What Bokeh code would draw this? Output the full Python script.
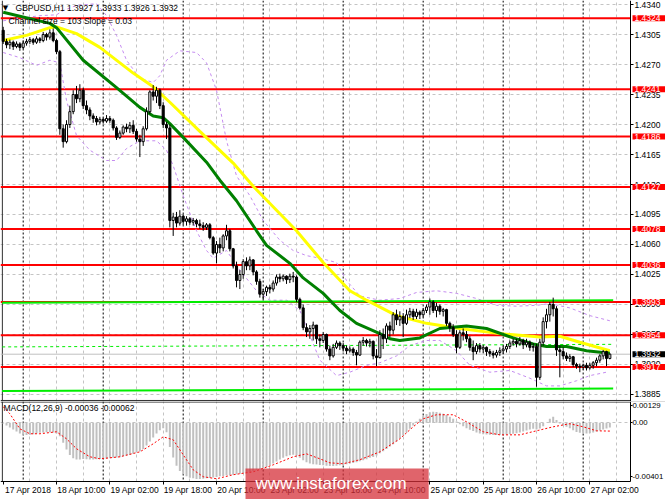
from bokeh.plotting import figure
from bokeh.layouts import column
from bokeh.models import (ColumnDataSource, FixedTicker, Span, Label, Range1d,
                          BoxAnnotation)
from bokeh.embed import file_html
from bokeh.resources import INLINE

# GBPUSD H1, bar 0 = 17 Apr 2018 18:00
first_open = 1.4310
closes = [
    1.4297, 1.4293, 1.4296, 1.4291, 1.4294, 1.4290, 1.4295, 1.4297, 1.4299, 1.4296,
    1.4300, 1.4298, 1.4305, 1.4302, 1.4307, 1.4298, 1.4285, 1.4195, 1.4180, 1.4200,
    1.4215, 1.4235, 1.4230, 1.4240, 1.4222, 1.4217, 1.4210, 1.4207, 1.4203, 1.4206,
    1.4204, 1.4207, 1.4205, 1.4196, 1.4185, 1.4190, 1.4197, 1.4195, 1.4199, 1.4192,
    1.4183, 1.4180, 1.4195, 1.4215, 1.4238, 1.4233, 1.4240, 1.4222, 1.4200, 1.4196,
    1.4088, 1.4092, 1.4085, 1.4093, 1.4087, 1.4090, 1.4086, 1.4088, 1.4084, 1.4082,
    1.4080, 1.4083, 1.4068, 1.4050, 1.4060, 1.4056, 1.4070, 1.4076, 1.4055, 1.4035,
    1.4018, 1.4025, 1.4040, 1.4035, 1.4042, 1.4028, 1.4017, 1.4002, 1.4005, 1.4010,
    1.4008, 1.4015, 1.4022, 1.4020, 1.4023, 1.4019, 1.4023, 1.4022, 1.3996, 1.3986,
    1.3963, 1.3958, 1.3962, 1.3966, 1.3950, 1.3948, 1.3955, 1.3938, 1.3930, 1.3940,
    1.3945, 1.3942, 1.3939, 1.3936, 1.3938, 1.3934, 1.3931, 1.3946, 1.3948, 1.3945,
    1.3947, 1.3930, 1.3928, 1.3955, 1.3950, 1.3965, 1.3960, 1.3978, 1.3972, 1.3976,
    1.3968, 1.3978, 1.3982, 1.3976, 1.3981, 1.3978, 1.3983, 1.3987, 1.3993, 1.3983,
    1.3988, 1.3982, 1.3984, 1.3968, 1.3963, 1.3955, 1.3940, 1.3957, 1.3955, 1.3950,
    1.3940, 1.3935, 1.3942, 1.3938, 1.3940, 1.3935, 1.3933, 1.3931, 1.3934, 1.3936,
    1.3938, 1.3941, 1.3945, 1.3947, 1.3944, 1.3948, 1.3943, 1.3946, 1.3940, 1.3941,
    1.3905, 1.3946, 1.3970, 1.3978, 1.3990, 1.3985, 1.3937, 1.3935, 1.3930, 1.3927,
    1.3929, 1.3920, 1.3918, 1.3917, 1.3919, 1.3916, 1.3919, 1.3922, 1.3925, 1.3930,
    1.3935, 1.3927, 1.3932,
]
highs = [
    1.4314, 1.4300, 1.4299, 1.4298, 1.4297, 1.4296, 1.4298, 1.4300, 1.4302, 1.4301,
    1.4303, 1.4302, 1.4308, 1.4307, 1.4311, 1.4312, 1.4300, 1.4287, 1.4200, 1.4205,
    1.4222, 1.4240, 1.4245, 1.4247, 1.4243, 1.4228, 1.4220, 1.4213, 1.4210, 1.4209,
    1.4208, 1.4211, 1.4210, 1.4207, 1.4198, 1.4193, 1.4199, 1.4201, 1.4203, 1.4205,
    1.4195, 1.4188, 1.4198, 1.4220, 1.4240, 1.4246, 1.4244, 1.4242, 1.4226, 1.4203,
    1.4200, 1.4097, 1.4098, 1.4100, 1.4095, 1.4093, 1.4092, 1.4091, 1.4090, 1.4089,
    1.4086, 1.4085, 1.4085, 1.4070, 1.4064, 1.4068, 1.4072, 1.4083, 1.4078, 1.4056,
    1.4040, 1.4030, 1.4043, 1.4045, 1.4046, 1.4043, 1.4030, 1.4020, 1.4008, 1.4012,
    1.4013, 1.4018, 1.4025, 1.4026, 1.4025, 1.4024, 1.4026, 1.4028, 1.4024, 1.3998,
    1.3990, 1.3968, 1.3966, 1.3970, 1.3966, 1.3955, 1.3958, 1.3956, 1.3942, 1.3944,
    1.3948, 1.3947, 1.3945, 1.3942, 1.3941, 1.3940, 1.3937, 1.3948, 1.3952, 1.3950,
    1.3950, 1.3948, 1.3938, 1.3960, 1.3962, 1.3968, 1.3970, 1.3981, 1.3984, 1.3982,
    1.3980, 1.3984, 1.3986, 1.3985, 1.3985, 1.3983, 1.3986, 1.3990, 1.3997, 1.3995,
    1.3992, 1.3990, 1.3986, 1.3985, 1.3970, 1.3967, 1.3960, 1.3960, 1.3962, 1.3959,
    1.3953, 1.3948, 1.3945, 1.3945, 1.3943, 1.3941, 1.3938, 1.3936, 1.3937, 1.3940,
    1.3942, 1.3944, 1.3948, 1.3950, 1.3950, 1.3952, 1.3950, 1.3950, 1.3948, 1.3945,
    1.3944, 1.3950, 1.3975, 1.3985, 1.3993, 1.3998, 1.3988, 1.3942, 1.3940, 1.3934,
    1.3932, 1.3930, 1.3922, 1.3921, 1.3921, 1.3922, 1.3922, 1.3924, 1.3928, 1.3932,
    1.3937, 1.3936, 1.3933,
]
lows = [
    1.4294, 1.4289, 1.4288, 1.4287, 1.4289, 1.4286, 1.4288, 1.4292, 1.4294, 1.4293,
    1.4294, 1.4295, 1.4296, 1.4298, 1.4299, 1.4296, 1.4282, 1.4188, 1.4173, 1.4178,
    1.4196, 1.4212, 1.4225, 1.4226, 1.4218, 1.4212, 1.4205, 1.4202, 1.4199, 1.4200,
    1.4201, 1.4202, 1.4202, 1.4193, 1.4182, 1.4183, 1.4188, 1.4191, 1.4190, 1.4189,
    1.4180, 1.4162, 1.4175, 1.4193, 1.4212, 1.4228, 1.4225, 1.4218, 1.4196, 1.4183,
    1.4080, 1.4070, 1.4080, 1.4082, 1.4083, 1.4082, 1.4083, 1.4082, 1.4080, 1.4078,
    1.4076, 1.4077, 1.4066, 1.4048, 1.4038, 1.4050, 1.4052, 1.4065, 1.4052, 1.4032,
    1.4010, 1.4008, 1.4020, 1.4030, 1.4030, 1.4024, 1.4013, 1.3998, 1.3995, 1.4000,
    1.4003, 1.4005, 1.4012, 1.4016, 1.4017, 1.4014, 1.4015, 1.4016, 1.3993, 1.3984,
    1.3960, 1.3952, 1.3950, 1.3948, 1.3944, 1.3940, 1.3945, 1.3935, 1.3925, 1.3928,
    1.3938, 1.3937, 1.3935, 1.3932, 1.3934, 1.3930, 1.3919, 1.3930, 1.3942, 1.3941,
    1.3940, 1.3926, 1.3918, 1.3927, 1.3938, 1.3945, 1.3952, 1.3955, 1.3966, 1.3965,
    1.3952, 1.3966, 1.3974, 1.3972, 1.3973, 1.3973, 1.3975, 1.3980, 1.3978, 1.3980,
    1.3975, 1.3978, 1.3976, 1.3965, 1.3958, 1.3952, 1.3933, 1.3938, 1.3948, 1.3946,
    1.3936, 1.3925, 1.3932, 1.3934, 1.3933, 1.3930, 1.3929, 1.3927, 1.3928, 1.3930,
    1.3932, 1.3934, 1.3938, 1.3942, 1.3940, 1.3942, 1.3938, 1.3940, 1.3936, 1.3935,
    1.3894, 1.3902, 1.3942, 1.3962, 1.3970, 1.3976, 1.3930, 1.3905, 1.3926, 1.3924,
    1.3923, 1.3917, 1.3915, 1.3911, 1.3914, 1.3913, 1.3914, 1.3915, 1.3918, 1.3922,
    1.3926, 1.3918, 1.3926,
]

# moving averages
yellow_bars = [0, 7, 14, 16, 22, 29, 39, 45, 50, 59, 69, 75, 82, 88, 96, 104, 109,
               118, 127, 137, 149, 161, 167, 173, 182]
yellow_vals = [1.4298, 1.4304, 1.4313, 1.4314, 1.4306, 1.4290, 1.4260, 1.4244, 1.4226,
               1.4192, 1.4155, 1.4128, 1.4100, 1.4076, 1.4039, 1.4006, 1.3995, 1.3977,
               1.3968, 1.3962, 1.3956, 1.3952, 1.3953, 1.3946, 1.3936]
green_bars = [0, 14, 16, 24, 34, 41, 45, 48, 50, 54, 61, 65, 70, 76, 79, 86, 90, 96,
              101, 106, 113, 116, 119, 125, 131, 139, 145, 153, 159, 163, 169, 175, 182]
green_vals = [1.4331, 1.4318, 1.4313, 1.4275, 1.4243, 1.4220, 1.4210, 1.4208, 1.4201,
              1.4185, 1.4156, 1.4135, 1.4111, 1.4076, 1.4059, 1.4038, 1.4021, 1.4003,
              1.3983, 1.3968, 1.3956, 1.3950, 1.3948, 1.3951, 1.3962, 1.3965, 1.3962,
              1.3951, 1.3944, 1.3941, 1.3941, 1.3936, 1.3933]

# bands (purple dotted)
band_up_bars = [0, 5, 11, 16, 18, 22, 28, 31, 34, 37, 41, 45, 47, 49, 53, 58, 61, 64,
                67, 70, 74, 78, 83, 87, 91, 95, 100, 103, 107, 113, 119, 124, 130, 136,
                142, 148, 154, 160, 164, 170, 176, 182]
band_up_vals = [1.4321, 1.4324, 1.4327, 1.4328, 1.4333, 1.4339, 1.4341, 1.4327, 1.4304,
                1.4275, 1.4254, 1.4249, 1.4257, 1.4275, 1.4286, 1.4284, 1.4272, 1.4240,
                1.4181, 1.4140, 1.4117, 1.4088, 1.4065, 1.4053, 1.4047, 1.4044, 1.4039,
                1.4018, 1.4000, 1.3995, 1.3997, 1.4004, 1.4006, 1.4003, 1.3997, 1.3989,
                1.3988, 1.3989, 1.3991, 1.3986, 1.3977, 1.3971]
band_lo_bars = [0, 5, 10, 14, 17, 19, 22, 26, 31, 34, 37, 41, 46, 49, 51, 54, 58, 61,
                63, 67, 71, 76, 80, 85, 89, 92, 95, 100, 104, 109, 113, 118, 122, 127,
                131, 136, 140, 146, 152, 158, 163, 167, 172, 176, 181]
band_lo_vals = [1.4284, 1.4278, 1.4269, 1.4275, 1.4272, 1.4228, 1.4187, 1.4170, 1.4158,
                1.4158, 1.4172, 1.4181, 1.4181, 1.4170, 1.4152, 1.4117, 1.4076, 1.4053,
                1.4044, 1.4053, 1.4030, 1.4006, 1.3995, 1.3995, 1.3983, 1.3954, 1.3925,
                1.3907, 1.3911, 1.3919, 1.3922, 1.3930, 1.3942, 1.3948, 1.3948, 1.3936,
                1.3919, 1.3911, 1.3913, 1.3904, 1.3895, 1.3895, 1.3901, 1.3907, 1.3911]

# linear channel, size 103 points
chan_bars = [-0.3, 183]
chan_top = [1.3992, 1.3995]
chan_mid = [1.39405, 1.39435]
chan_bot = [1.3889, 1.3892]

levels = [1.4324, 1.4241, 1.4186, 1.4127, 1.4078, 1.4036, 1.3993, 1.3954, 1.3917]
bid = 1.3932

price_ticks = [1.4340, 1.4305, 1.4270, 1.4235, 1.4200, 1.4165, 1.4130, 1.4095,
               1.4060, 1.4025, 1.3990, 1.3955, 1.3920, 1.3885]

# MACD(12,26,9) in 1e-5 units
macd_hist = [
    -5, -20, -35, -50, -65, -80, -90, -92, -90, -85,
    -80, -75, -72, -70, -70, -72, -80, -100, -150, -200,
    -240, -265, -275, -275, -270, -272, -275, -275, -272, -270,
    -270, -268, -265, -262, -260, -258, -250, -245, -240, -232,
    -222, -212, -195, -170, -140, -110, -80, -55, -40, -70,
    -180, -260, -320, -360, -385, -400, -410, -415, -420, -420,
    -418, -415, -412, -408, -405, -400, -398, -392, -390, -388,
    -385, -380, -375, -370, -365, -358, -350, -345, -338, -330,
    -318, -305, -290, -275, -262, -250, -242, -238, -245, -262,
    -280, -295, -305, -310, -312, -315, -318, -320, -322, -322,
    -320, -318, -315, -310, -305, -300, -295, -288, -280, -272,
    -262, -255, -245, -228, -212, -195, -178, -160, -140, -118,
    -95, -72, -45, -20, 10, 30, 50, 65, 78, 82,
    80, 75, 68, 58, 45, 30, 10, -10, -25, -40,
    -52, -62, -72, -80, -85, -88, -90, -92, -92, -90,
    -90, -88, -85, -82, -78, -72, -65, -58, -50, -45,
    -50, -42, -25, 0, 30, 45, 20, -5, -20, -30,
    -40, -55, -68, -75, -78, -80, -78, -72, -65, -58,
    -50, -42, -36,
]
signal_bars = [0, 2, 5, 8, 11, 16, 19, 22, 26, 29, 35, 41, 45, 48, 51, 54, 57, 60, 64,
               69, 75, 81, 87, 91, 95, 98, 102, 107, 113, 119, 123, 126, 130, 135, 139,
               144, 149, 155, 160, 165, 170, 174, 178, 182]
signal_vals = [120, 67, -45, -82, -82, -67, -120, -194, -254, -269, -254, -217, -157,
               -105, -127, -239, -351, -403, -418, -388, -366, -314, -254, -232, -269,
               -299, -306, -276, -217, -120, -30, 30, 60, 60, 7, -67, -90, -90, -60,
               -30, -7, -30, -60, -62]
macd_ticks = [0.00129, 0.0, -0.00401]
macd_tick_labels = ["0.00129", "0.00", "-0.00401"]

time_label_bars = [0, 16, 32, 48, 64, 80, 96, 112, 128, 144, 160, 176]
time_labels = ["17 Apr 2018", "18 Apr 10:00", "19 Apr 02:00", "19 Apr 18:00",
               "20 Apr 10:00", "23 Apr 02:00", "23 Apr 18:00", "24 Apr 10:00",
               "25 Apr 02:00", "25 Apr 18:00", "26 Apr 10:00", "27 Apr 02:00"]
day_start_bars = [6, 30, 54, 78, 102, 126, 150, 174]
grid_bars = list(range(8, 185, 8))

FONT = "Liberation Sans"
FS = "8.5px"
GRID = "#c4c4c4"
BORDER = "#303030"
LABEL_SHIFT = 7.5   # MT4 time labels start at their tick
AXIS_X = 188.2      # bar position of the price scale line
X_START, X_END = -0.81, 198.7
P_TOP, P_BOT = 1.43447, 1.38768
M_TOP, M_BOT = 0.00159, -0.00573
M_AXIS = -0.00436   # MACD panel bottom edge

x_range = Range1d(X_START, X_END)

n = len(closes)
bars = list(range(n))
opens = [first_open] + closes[:-1]
up = [c >= o for o, c in zip(opens, closes)]


def body_source(want_up):
    idx = [i for i in bars if up[i] == want_up]
    return ColumnDataSource(dict(
        x=idx,
        top=[max(opens[i], closes[i]) for i in idx],
        bottom=[min(opens[i], closes[i]) for i in idx],
    ))


def make_panel(height, y0, y1):
    p = figure(frame_width=665, frame_height=height, x_range=x_range,
               y_range=Range1d(y0, y1), y_axis_location="right",
               output_backend="svg", toolbar_location=None, min_border=0)
    p.background_fill_color = "white"
    p.border_fill_color = "white"
    p.outline_line_color = None
    p.xgrid.ticker = FixedTicker(ticks=grid_bars)
    for g in (p.xgrid, p.ygrid):
        g.grid_line_color = GRID
        g.grid_line_dash = "3 3"
        g.grid_line_width = 1
    for b in day_start_bars:
        p.add_layout(Span(location=b, dimension="height", line_color="black",
                          line_dash="2 2", line_width=1, level="underlay"))
    p.add_layout(Span(location=-0.25, dimension="height", line_color=BORDER,
                      line_width=1, level="underlay"))
    return p


def right_axis(p, ticks, labels, bounds, font_size, standoff, tick_out):
    ax = p.yaxis[0]
    ax.fixed_location = AXIS_X
    ax.bounds = bounds
    ax.ticker = FixedTicker(ticks=ticks)
    ax.major_label_overrides = dict(zip(ticks, labels))
    ax.major_label_text_font = FONT
    ax.major_label_text_font_size = font_size
    ax.major_label_text_color = "black"
    ax.major_label_standoff = standoff
    ax.major_tick_in = 0
    ax.major_tick_out = tick_out
    ax.minor_tick_line_color = None
    ax.axis_line_color = "black"
    p.ygrid.ticker = FixedTicker(ticks=ticks)


def cover_scale(p):
    # keep grid and level lines out of the price-scale column
    p.add_layout(BoxAnnotation(left=AXIS_X, fill_color="white", fill_alpha=1,
                               line_color=None, level="underlay"))


def scale_label(p, y, text, color):
    p.add_layout(Label(x=AXIS_X, y=y, x_offset=2, text=text,
                       text_align="left", text_baseline="middle",
                       text_font=FONT, text_font_size=FS, text_color="white",
                       background_fill_color=color,
                       padding=dict(left=2, right=12, top=0, bottom=0)))


# ---------------- price panel ----------------
price = make_panel(401, P_BOT, P_TOP)
right_axis(price, price_ticks, [f"{t:.4f}" for t in price_ticks], (P_BOT, P_TOP),
           FS, 1, 3)
price.xaxis.visible = False

price.add_layout(Span(location=bid, dimension="width", line_color="#c0c0c0",
                      line_width=1, level="underlay"))
for lv in levels:
    price.add_layout(Span(location=lv, dimension="width", line_color="red",
                          line_width=2, level="underlay"))
price.add_layout(Span(location=1.38780, dimension="width", line_color=BORDER,
                      line_width=1, level="underlay"))
cover_scale(price)

price.line(band_up_bars, band_up_vals, line_color="#c58cf0", line_dash="3 3", line_width=1)
price.line(band_lo_bars, band_lo_vals, line_color="#c58cf0", line_dash="3 3", line_width=1)

price.line(chan_bars, chan_top, line_color="#00ee00", line_width=2)
price.line(chan_bars, chan_bot, line_color="#00ee00", line_width=2)
price.line(chan_bars, chan_mid, line_color="#00ee00", line_width=1, line_dash="3 3")

price.line(yellow_bars, yellow_vals, line_color="#ffff00", line_width=3)
price.line(green_bars, green_vals, line_color="#008000", line_width=3)

price.segment(bars, highs, bars, lows, line_color="black", line_width=1)
price.vbar(x="x", top="top", bottom="bottom", width=0.62, source=body_source(True),
           fill_color="white", line_color="black", line_width=1)
price.vbar(x="x", top="top", bottom="bottom", width=0.62, source=body_source(False),
           fill_color="black", line_color="black", line_width=1)

for lv in levels:
    scale_label(price, lv, f"{lv:.4f}", "red")
scale_label(price, bid, f"{bid:.4f}", "black")

price.add_layout(Label(x=0.7, y=1.43365, text="\u25bc", text_align="center",
                       text_baseline="middle", text_font="DejaVu Sans",
                       text_font_size="7px", text_color="black"))
price.add_layout(Label(x=3.7, y=1.43365,
                       text="GBPUSD,H1  1.3927 1.3933 1.3926 1.3932",
                       text_align="left", text_baseline="middle",
                       text_font=FONT, text_font_size=FS, text_color="black"))
price.add_layout(Label(x=1.6, y=1.43213, text="Channel size = 103 Slope = 0.03",
                       text_align="left", text_baseline="middle",
                       text_font=FONT, text_font_size=FS, text_color="black"))

# ---------------- MACD panel ----------------
macd = make_panel(98, M_BOT, M_TOP)
right_axis(macd, macd_ticks, macd_tick_labels, (M_AXIS, M_TOP), "7.8px", 0, 2)
macd.ygrid.ticker = FixedTicker(ticks=[0.0])
macd.add_layout(Span(location=0.00155, dimension="width", line_color=BORDER,
                     line_width=1, level="underlay"))
cover_scale(macd)
macd.add_layout(BoxAnnotation(top=M_AXIS, fill_color="white", fill_alpha=1,
                              line_color=None, level="underlay"))

macd.vbar(x=bars, top=[v * 1e-5 for v in macd_hist], bottom=0, width=0.6,
          fill_color="#c0c0c0", line_color=None)
macd.line(signal_bars, [v * 1e-5 for v in signal_vals], line_color="red",
          line_dash="2 2", line_width=1)

xax = macd.xaxis[0]
xax.fixed_location = M_AXIS
xax.bounds = (X_START, AXIS_X)
label_pos = [b + LABEL_SHIFT for b in time_label_bars]
xax.ticker = FixedTicker(ticks=label_pos, minor_ticks=time_label_bars)
xax.major_label_overrides = dict(zip(label_pos, time_labels))
xax.major_label_text_font = FONT
xax.major_label_text_font_size = FS
xax.major_label_text_color = "black"
xax.major_label_standoff = 1
xax.major_tick_line_color = None
xax.major_tick_in = 0
xax.major_tick_out = 3
xax.minor_tick_line_color = "black"
xax.minor_tick_in = 0
xax.minor_tick_out = 3
xax.axis_line_color = "black"

macd.add_layout(Label(x=0.1, y=0.00114, text="MACD(12,26,9) -0.00036 -0.00062",
                      text_align="left", text_baseline="middle",
                      text_font=FONT, text_font_size=FS, text_color="black"))

# box anchored at its top-left corner, text inset by the padding
macd.add_layout(Label(x=72.7, y=-0.00341, text="www.instaforex.com",
                      text_align="left", text_baseline="top",
                      text_font=FONT, text_font_size="17px", text_color="white",
                      background_fill_color="#d6303a", background_fill_alpha=0.75,
                      padding=dict(left=10, right=22, top=6, bottom=15)))

layout = column(price, macd, spacing=0)
open("out.html", "w").write(file_html(layout, INLINE))
